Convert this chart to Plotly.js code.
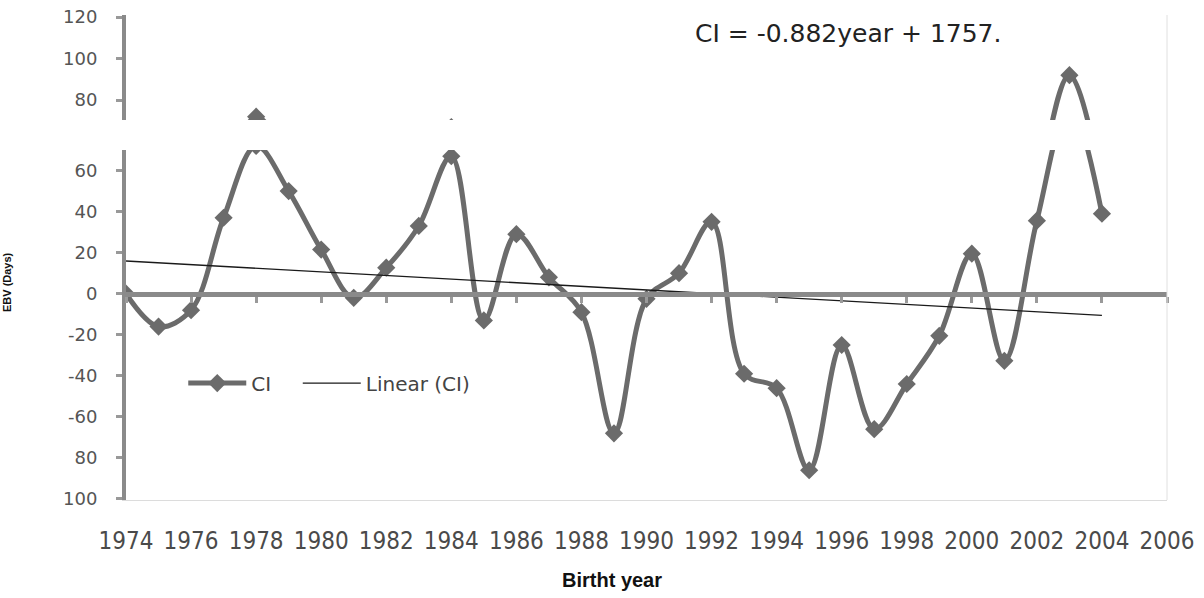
<!DOCTYPE html>
<html>
<head>
<meta charset="utf-8">
<script src="https://cdn.plot.ly/plotly-3.0.1.min.js"></script>
<style>
  html, body { margin: 0; padding: 0; background: #fff; }
  #chart { width: 1204px; height: 598px; }
</style>
</head>
<body>
<div id="chart"></div>
<script>
// ---- data ----
const years = [1974, 1975, 1976, 1977, 1978, 1979, 1980, 1981, 1982, 1983,
               1984, 1985, 1986, 1987, 1988, 1989, 1990, 1991, 1992, 1993,
               1994, 1995, 1996, 1997, 1998, 1999, 2000, 2001, 2002, 2003, 2004];
const ciValues = [0, -16, -8, 37, 72, 50, 21.5, -2, 12.7, 33,
                  67, -13, 29, 8, -9, -68, -2.5, 10, 35, -39,
                  -46, -86, -25, -66, -44, -20.5, 19.5, -32.7, 35.6, 92, 39];
const trendSlope = -0.882;
const trendIntercept = 1757;
const xTickVals = [1974, 1976, 1978, 1980, 1982, 1984, 1986, 1988, 1990,
                   1992, 1994, 1996, 1998, 2000, 2002, 2004, 2006];
const xTickText = ['1974', '1976', '1978', '1980', '1982', '1984', '1986', '1988', '1990',
                   '1992', '1994', '1996', '1998', '2000', '2002', '2004', '2006'];
const yLowTickVals = [-100, -80, -60, -40, -20, 0, 20, 40, 60];
const yLowTickText = ['100', '80', '-60', '-40', '-20', '0', '20', '40', '60'];
const yHighTickVals = [80, 100, 120];
const yHighTickText = ['80', '100', '120'];
const equationText = 'CI = -0.882year + 1757.';

// ---- derived ----
const trendX = [years[0], years[years.length - 1]];
const trendY = trendX.map(x => trendSlope * x + trendIntercept);

const lowRange = [-100.5, 70];
const highRange = [70.4, 121];
const lowDomain = [0, 0.7216];
const highDomain = [0.7835, 1];
const zeroPos = lowDomain[0] + (0 - lowRange[0]) / (lowRange[1] - lowRange[0]) * (lowDomain[1] - lowDomain[0]);

const lineColor = '#6b6b6b';
const axisGray = '#8a8a8a';
const tickFont = { family: 'DejaVu Sans, Arial, sans-serif', size: 18, color: '#555' };
const legendFont = { family: 'DejaVu Sans, Arial, sans-serif', size: 20, color: '#444' };

const ciStyle = {
  mode: 'lines+markers',
  line: { color: lineColor, width: 5, shape: 'spline', smoothing: 1 },
  marker: { symbol: 'diamond', size: 14, color: lineColor },
  hoverinfo: 'x+y'
};

const traces = [
  Object.assign({ x: years, y: ciValues, name: 'CI', xaxis: 'x', yaxis: 'y', legend: 'legend' }, ciStyle),
  { x: trendX, y: trendY, name: 'Linear (CI)', mode: 'lines', legend: 'legend2',
    line: { color: '#1a1a1a', width: 1.3 }, xaxis: 'x', yaxis: 'y' },
  Object.assign({ x: years, y: ciValues, name: 'CI', showlegend: false, xaxis: 'x', yaxis: 'y2' }, ciStyle),
  { x: [years[0]], y: [null], showlegend: false, mode: 'lines', xaxis: 'x3', yaxis: 'y', hoverinfo: 'skip' }
];

const layout = {
  width: 1204, height: 598,
  margin: { l: 126, r: 37, t: 15, b: 98 },
  paper_bgcolor: '#fff', plot_bgcolor: '#fff',
  showlegend: true,
  legend: {
    orientation: 'h', x: 0.055, y: 0.241, xanchor: 'left', yanchor: 'middle',
    font: legendFont, bgcolor: 'rgba(0,0,0,0)', itemwidth: 58
  },
  legend2: {
    orientation: 'h', x: 0.165, y: 0.241, xanchor: 'left', yanchor: 'middle',
    font: legendFont, bgcolor: 'rgba(0,0,0,0)', itemwidth: 58
  },
  xaxis: {
    range: [1974, 2006], anchor: 'y',
    showgrid: false, zeroline: false,
    showline: true, linecolor: '#dcdcdc', linewidth: 1,
    tickmode: 'array', tickvals: xTickVals, ticktext: xTickText,
    ticks: '', ticklabelstandoff: 19,
    tickfont: { family: 'DejaVu Sans Condensed, Liberation Sans Narrow, sans-serif', size: 24, color: '#4a4a4a' }
  },
  xaxis3: {
    range: [1974, 2006], overlaying: 'x', anchor: 'free', position: zeroPos,
    showgrid: false, zeroline: false,
    showline: true, linecolor: axisGray, linewidth: 5,
    tickmode: 'array', tickvals: xTickVals,
    ticks: 'outside', ticklen: 6, tickwidth: 3, tickcolor: '#9a9a9a',
    showticklabels: false
  },
  yaxis: {
    domain: lowDomain, range: lowRange, anchor: 'x',
    showgrid: false, zeroline: false,
    showline: true, linecolor: axisGray, linewidth: 4,
    tickmode: 'array', tickvals: yLowTickVals, ticktext: yLowTickText,
    ticks: 'outside', ticklen: 6, tickwidth: 3, tickcolor: '#999',
    ticklabelstandoff: 15, tickfont: tickFont
  },
  yaxis2: {
    domain: highDomain, range: highRange, anchor: 'x',
    showgrid: false, zeroline: false,
    showline: true, linecolor: axisGray, linewidth: 4,
    tickmode: 'array', tickvals: yHighTickVals, ticktext: yHighTickText,
    ticks: 'outside', ticklen: 6, tickwidth: 3, tickcolor: '#999',
    ticklabelstandoff: 15, tickfont: tickFont
  },
  shapes: [
    { type: 'line', xref: 'paper', yref: 'paper', x0: 1, x1: 1, y0: 0, y1: 1,
      line: { color: '#e0e0e0', width: 1 } }
  ],
  annotations: [
    { text: equationText, xref: 'paper', yref: 'paper', x: 0.545, y: 0.962,
      xanchor: 'left', yanchor: 'middle', showarrow: false,
      font: { family: 'DejaVu Sans, Arial, sans-serif', size: 25, color: '#222' } },
    { text: '<b>Birtht year</b>', xref: 'paper', yref: 'paper', x: 0.467, y: -0.165,
      xanchor: 'center', yanchor: 'middle', showarrow: false,
      font: { family: 'Liberation Sans Narrow, Arial Narrow, sans-serif', size: 20, color: '#111' } },
    { text: '<b>EBV (Days)</b>', xref: 'paper', yref: 'paper', x: -0.115, y: 0.45,
      xanchor: 'center', yanchor: 'middle', showarrow: false, textangle: -90,
      font: { family: 'Liberation Sans, Arial, sans-serif', size: 11, color: '#111' } }
  ]
};

Plotly.newPlot('chart', traces, layout, { displayModeBar: false, staticPlot: true });
</script>
</body>
</html>
